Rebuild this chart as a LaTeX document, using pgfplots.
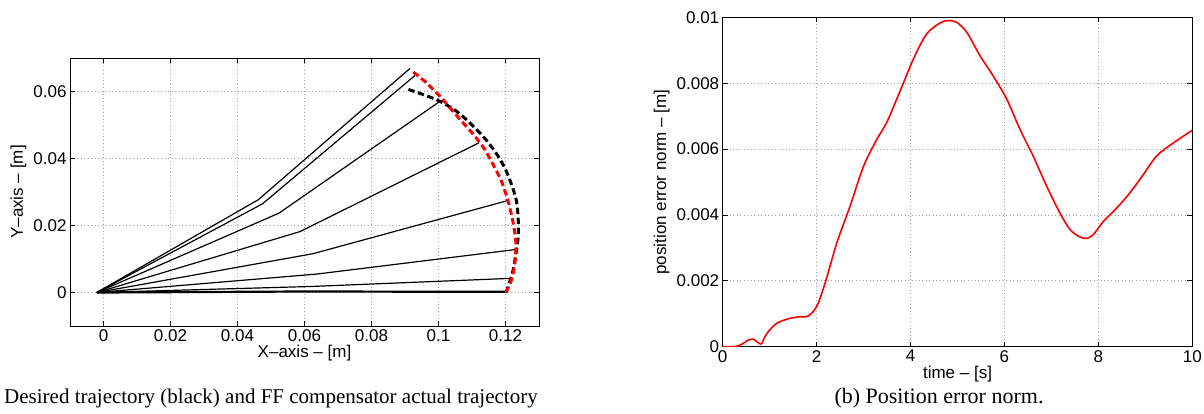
\documentclass[border=0pt]{standalone}
\usepackage{fontspec}
\setmainfont{Liberation Serif}
\setsansfont{Liberation Sans}
\usepackage{pgfplots}
\pgfplotsset{compat=1.18}

\pgfplotsset{
  mstyle/.style={
    scale only axis,
    axis line style={line width=1pt},
    tick align=inside,
    tick pos=both,
    major tick length=5pt,
    tick style={line width=0.8pt, black},
    grid=major,
    major grid style={line width=0.8pt, gray!75, dash pattern=on 1pt off 2.5pt},
    every axis label/.append style={font=\sffamily\fontsize{17}{19}\selectfont},
    ticklabel style={font=\sffamily\fontsize{17}{19}\selectfont},
    /pgf/number format/assume math mode=true,
    scaled ticks=false,
    /pgf/number format/fixed,
    /pgf/number format/precision=3,
  },
  arm/.style={black, line width=1.2pt},
}

\begin{document}
\begin{tikzpicture}
\path[use as bounding box] (0,0) rectangle (1204pt,-413pt);

% left: arm configurations and end-effector paths
\begin{axis}[mstyle,
    at={(70pt,-326pt)}, anchor=south west,
    width=469pt, height=268pt,
    xmin=-0.01, xmax=0.13, ymin=-0.01, ymax=0.07,
    xtick={0,0.02,0.04,0.06,0.08,0.1,0.12},
    ytick={0,0.02,0.04,0.06},
    xlabel={X--axis -- [m]},
    ylabel={Y--axis -- [m]},
    xlabel style={yshift=3pt},
]
\addplot[arm] coordinates {(-0.002,0) (0.0462,0.0277) (0.0915,0.0669)};
\addplot[arm] coordinates {(-0.002,0) (0.0475,0.0265) (0.0930,0.0648)};
\addplot[arm] coordinates {(-0.002,0) (0.0524,0.0237) (0.1009,0.0574)};
\addplot[arm] coordinates {(-0.002,0) (0.0587,0.0182) (0.1121,0.0447)};
\addplot[arm] coordinates {(-0.002,0) (0.0626,0.0116) (0.1205,0.0274)};
\addplot[arm] coordinates {(-0.002,0) (0.0636,0.0055) (0.1228,0.0128)};
\addplot[arm] coordinates {(-0.002,0) (0.0620,0.0018) (0.1210,0.0042)};
\addplot[arm, line width=2.2pt] coordinates {(-0.002,0) (0.0600,0.0003) (0.1201,0.0002)};

% desired path
\addplot[black, line width=3pt, dash pattern=on 6.5pt off 3.5pt, smooth] coordinates {
  (0.0910,0.0606) (0.0954,0.0591) (0.1004,0.0571) (0.1054,0.0541)
  (0.1094,0.0506) (0.1133,0.0466) (0.1168,0.0422) (0.1198,0.0372)
  (0.1218,0.0322) (0.1233,0.0272) (0.1238,0.0217) (0.1238,0.0167)
  (0.1233,0.0128) (0.1223,0.0068) (0.1208,0.0018) (0.1201,0.0)
};
% actual path
\addplot[red, line width=3pt, dash pattern=on 6.5pt off 3.5pt, smooth] coordinates {
  (0.0925,0.0658) (0.0964,0.0626) (0.1004,0.0586) (0.1039,0.0546)
  (0.1074,0.0506) (0.1109,0.0466) (0.1138,0.0427) (0.1163,0.0382)
  (0.1188,0.0332) (0.1208,0.0272) (0.1223,0.0207) (0.1231,0.0148)
  (0.1228,0.0088) (0.1218,0.0038) (0.1201,0.0)
};
\end{axis}

% right: position error norm
\begin{axis}[mstyle,
    at={(722.7pt,-346.7pt)}, anchor=south west,
    width=469.6pt, height=329.4pt,
    xmin=0, xmax=10, ymin=0, ymax=0.01,
    xtick={0,2,4,6,8,10},
    ytick={0,0.002,0.004,0.006,0.008,0.01},
    xlabel={time -- [s]},
    ylabel={position error norm -- [m]},
    xlabel style={yshift=3pt},
]
\addplot[red, line width=1.6pt, smooth] coordinates {
  (0,0) (0.23,0) (0.37,0.00005) (0.57,0.00022) (0.65,0.00023)
  (0.78,0.0001) (0.83,0.0001) (0.94,0.0004) (1.15,0.00071) (1.43,0.00086)
  (1.65,0.00091) (1.82,0.00093) (2.0,0.00122) (2.18,0.00193) (2.43,0.00315)
  (2.71,0.00426) (3.0,0.00548) (3.28,0.00629) (3.49,0.0068) (3.78,0.00777)
  (4.06,0.00873) (4.34,0.00949) (4.63,0.00983) (4.80,0.0099) (4.98,0.00985)
  (5.20,0.00954) (5.48,0.00883) (5.76,0.00822) (6.05,0.00751) (6.33,0.0066)
  (6.61,0.00579) (6.90,0.00487) (7.18,0.00406) (7.40,0.00355) (7.61,0.00333)
  (7.75,0.00329) (7.89,0.0034) (8.11,0.00381) (8.39,0.00421) (8.67,0.00467)
  (8.96,0.00523) (9.24,0.00579) (9.60,0.00619) (10,0.00657)
};
\end{axis}

\node[anchor=west, font=\fontsize{21}{24}\selectfont, inner sep=0pt] at (4pt,-398pt)
  {Desired trajectory (black) and FF compensator actual trajectory};
\node[font=\fontsize{22}{24}\selectfont, inner sep=0pt] at (939pt,-398pt)
  {(b) Position error norm.};
\end{tikzpicture}
\end{document}
